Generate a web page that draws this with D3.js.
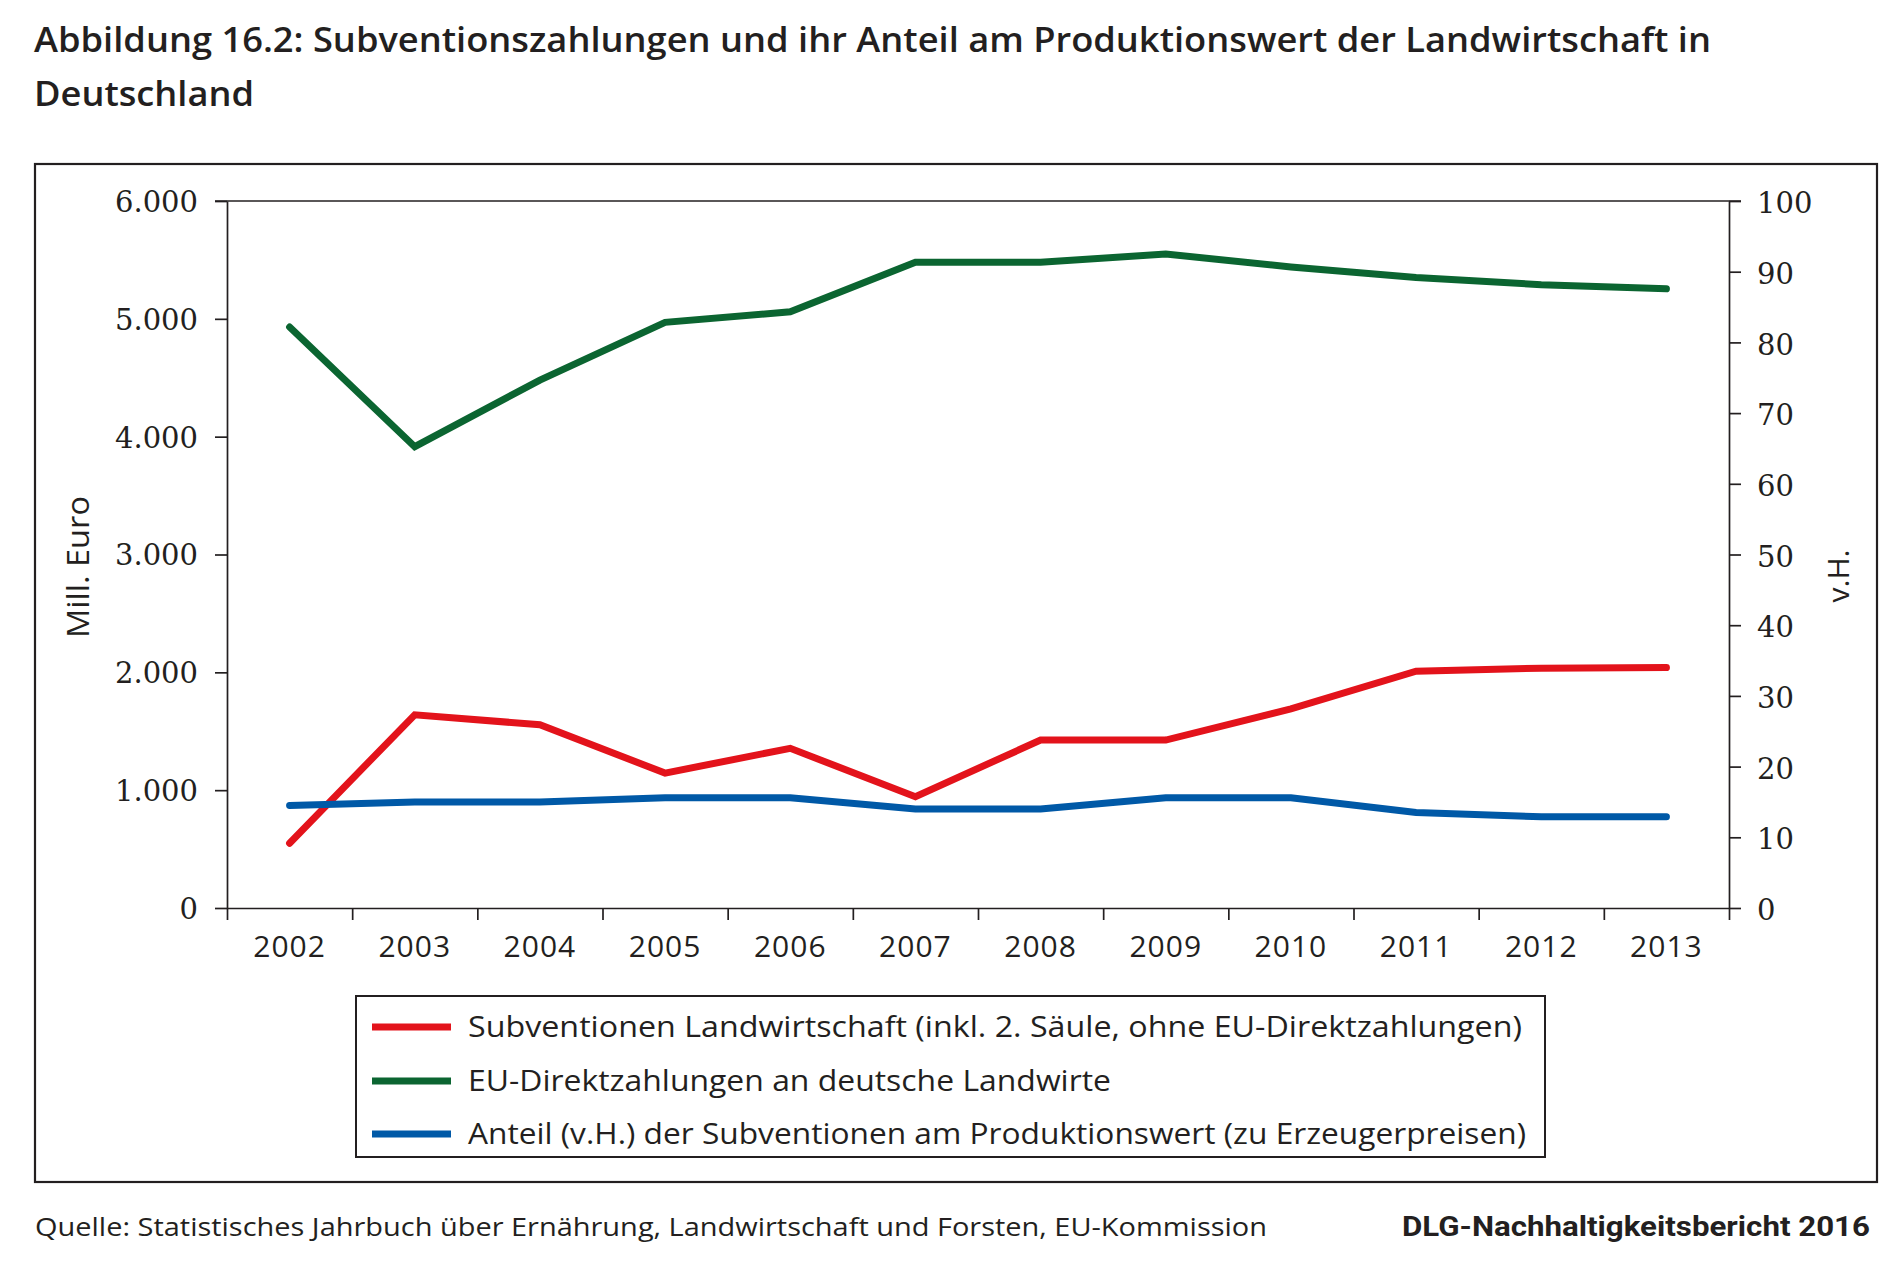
<!DOCTYPE html>
<html>
<head>
<meta charset="utf-8">
<script src="https://cdn.jsdelivr.net/npm/d3@7"></script>
<style>
  html, body { margin: 0; padding: 0; background: #fff; }
  svg { display: block; }
</style>
</head>
<body>
<svg id="chart" width="1900" height="1270"></svg>
<script>
// ---------- data ----------
const years = ["2002","2003","2004","2005","2006","2007","2008","2009","2010","2011","2012","2013"];
const subventionen = [550, 1640, 1555, 1145, 1355, 945, 1425, 1425, 1690, 2010, 2035, 2040];
const euDirekt = [4930, 3915, 4480, 4970, 5060, 5480, 5480, 5550, 5440, 5350, 5290, 5255];
const anteil = [14.5, 15.0, 15.0, 15.6, 15.6, 14.0, 14.0, 15.6, 15.6, 13.5, 12.9, 12.9];
const leftTicks = [0, 1000, 2000, 3000, 4000, 5000, 6000];
const rightTicks = [0, 10, 20, 30, 40, 50, 60, 70, 80, 90, 100];
const seriesNames = [
  "Subventionen Landwirtschaft (inkl. 2. Säule, ohne EU-Direktzahlungen)",
  "EU-Direktzahlungen an deutsche Landwirte",
  "Anteil (v.H.) der Subventionen am Produktionswert (zu Erzeugerpreisen)"
];
const titleLines = [
  "Abbildung 16.2: Subventionszahlungen und ihr Anteil am Produktionswert der Landwirtschaft in",
  "Deutschland"
];
const sourceText = "Quelle: Statistisches Jahrbuch über Ernährung, Landwirtschaft und Forsten, EU-Kommission";
const brandText = "DLG-Nachhaltigkeitsbericht 2016";
const leftAxisTitle = "Mill. Euro";
const rightAxisTitle = "v.H.";

// ---------- styles ----------
const colors = ["#e3131b", "#0b6531", "#0059a7"];
const ink = "#231f20";
const sans = "'Open Sans', 'Noto Sans', sans-serif";
const serif = "'DejaVu Serif', serif";

const svg = d3.select("#chart");

// ---------- layout ----------
const plot = { left: 227, right: 1729, top: 201, bottom: 908 };

const x = d3.scaleBand().domain(years).range([plot.left, plot.right]).padding(0);
const xBoundary = d3.scaleLinear().domain([0, years.length]).range([plot.left, plot.right]);
const yL = d3.scaleLinear().domain([0, 6000]).range([plot.bottom, plot.top]);
const yR = d3.scaleLinear().domain([0, 100]).range([plot.bottom, plot.top]);

const de = d3.formatLocale({ decimal: ",", thousands: ".", grouping: [3], currency: ["", " €"] });
const fmtL = de.format(",");

// ---------- title ----------
svg.append("text")
  .attr("x", 34).attr("y", 52)
  .attr("font-family", sans).attr("font-weight", 600).attr("font-size", 34)
  .attr("fill", ink)
  .attr("textLength", 1677).attr("lengthAdjust", "spacingAndGlyphs")
  .text(titleLines[0]);
svg.append("text")
  .attr("x", 34).attr("y", 106)
  .attr("font-family", sans).attr("font-weight", 600).attr("font-size", 34)
  .attr("fill", ink)
  .attr("textLength", 220).attr("lengthAdjust", "spacingAndGlyphs")
  .text(titleLines[1]);

// ---------- outer frame ----------
svg.append("rect")
  .attr("x", 35).attr("y", 164).attr("width", 1842).attr("height", 1018)
  .attr("fill", "none").attr("stroke", ink).attr("stroke-width", 2.2);

// ---------- axes ----------
const axisStyle = g => {
  g.selectAll("path, line").attr("stroke", ink).attr("stroke-width", 1.7);
};

// left axis
const gL = svg.append("g")
  .attr("transform", `translate(${plot.left},0)`)
  .call(d3.axisLeft(yL).tickValues(leftTicks).tickFormat(fmtL).tickSize(12).tickSizeOuter(0).tickPadding(17))
  .call(axisStyle);
gL.selectAll("text")
  .attr("font-family", serif).attr("font-size", 29).attr("fill", ink)
  .attr("dy", "0.36em");

// right axis
const gR = svg.append("g")
  .attr("transform", `translate(${plot.right},0)`)
  .call(d3.axisRight(yR).tickValues(rightTicks).tickSize(12).tickSizeOuter(0).tickPadding(16))
  .call(axisStyle);
gR.selectAll("text")
  .attr("font-family", serif).attr("font-size", 29).attr("fill", ink)
  .attr("dy", "0.40em");

// bottom axis: boundary ticks
const gB = svg.append("g")
  .attr("transform", `translate(0,${plot.bottom})`)
  .call(d3.axisBottom(xBoundary).tickValues(d3.range(years.length + 1)).tickFormat("").tickSize(12).tickSizeOuter(0))
  .call(axisStyle);

// bottom axis: year labels
const gBL = svg.append("g")
  .attr("transform", `translate(0,${plot.bottom})`)
  .call(d3.axisBottom(x).tickSize(0).tickPadding(28));
gBL.select(".domain").remove();
gBL.selectAll("text")
  .attr("font-family", sans).attr("font-size", 30).attr("fill", ink)
  .attr("letter-spacing", 1)
  .attr("dy", "0.71em");

// top frame line
svg.append("line")
  .attr("x1", plot.left - 12).attr("x2", plot.right + 12)
  .attr("y1", yL(6000)).attr("y2", yL(6000))
  .attr("stroke", ink).attr("stroke-width", 1.7);

// axis titles
svg.append("text")
  .attr("transform", `translate(89,567) rotate(-90)`)
  .attr("text-anchor", "middle")
  .attr("font-family", sans).attr("font-size", 31).attr("fill", ink)
  .attr("textLength", 142).attr("lengthAdjust", "spacingAndGlyphs")
  .text(leftAxisTitle);
svg.append("text")
  .attr("transform", `translate(1849,576) rotate(-90)`)
  .attr("text-anchor", "middle")
  .attr("font-family", sans).attr("font-size", 30).attr("fill", ink)
  .text(rightAxisTitle);

// ---------- lines ----------
const cx = d => x(d) + x.bandwidth() / 2;
const lineL = d3.line().x((d, i) => cx(years[i])).y(d => yL(d));
const lineR = d3.line().x((d, i) => cx(years[i])).y(d => yR(d));

const series = [
  { values: subventionen, gen: lineL, color: colors[0] },
  { values: euDirekt, gen: lineL, color: colors[1] },
  { values: anteil, gen: lineR, color: colors[2] }
];
series.forEach(s => {
  svg.append("path")
    .attr("d", s.gen(s.values))
    .attr("fill", "none")
    .attr("stroke", s.color)
    .attr("stroke-width", 7)
    .attr("stroke-linecap", "round")
    .attr("stroke-linejoin", "miter");
});

// ---------- legend ----------
const legend = svg.append("g");
legend.append("rect")
  .attr("x", 356).attr("y", 996).attr("width", 1189).attr("height", 161)
  .attr("fill", "#fff").attr("stroke", ink).attr("stroke-width", 2);
const legendY = [1027, 1081, 1134];
const legendW = [1054, 643, 1058];
seriesNames.forEach((name, i) => {
  legend.append("line")
    .attr("x1", 372).attr("x2", 451)
    .attr("y1", legendY[i]).attr("y2", legendY[i])
    .attr("stroke", colors[i]).attr("stroke-width", 7);
  legend.append("text")
    .attr("x", 468).attr("y", legendY[i] + 10)
    .attr("font-family", sans).attr("font-size", 30).attr("fill", ink)
    .attr("textLength", legendW[i]).attr("lengthAdjust", "spacingAndGlyphs")
    .text(name);
});

// ---------- footer ----------
svg.append("text")
  .attr("x", 35).attr("y", 1236)
  .attr("font-family", sans).attr("font-size", 26).attr("fill", ink)
  .attr("textLength", 1232).attr("lengthAdjust", "spacingAndGlyphs")
  .text(sourceText);
svg.append("text")
  .attr("x", 1402).attr("y", 1236)
  .attr("font-family", "Roboto, sans-serif").attr("font-weight", 700).attr("font-size", 27).attr("fill", ink)
  .attr("textLength", 468).attr("lengthAdjust", "spacingAndGlyphs")
  .text(brandText);
</script>
</body>
</html>
